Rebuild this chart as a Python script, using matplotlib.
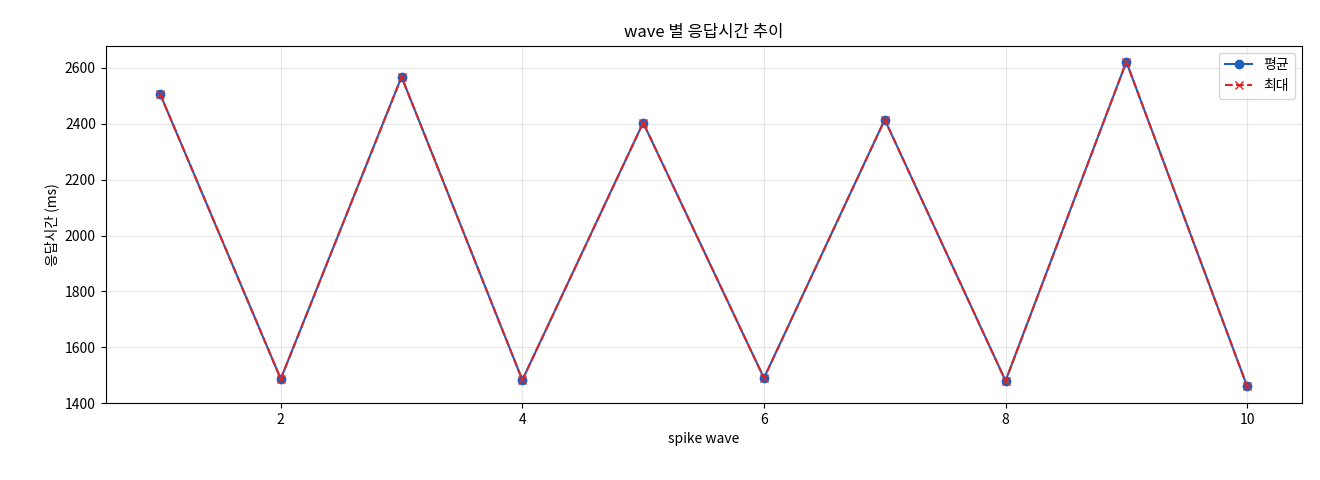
import matplotlib
matplotlib.use("Agg")
import matplotlib.pyplot as plt

plt.rcParams['font.family'] = ['Noto Sans CJK KR', 'DejaVu Sans']

waves = [1, 2, 3, 4, 5, 6, 7, 8, 9, 10]
avg_ms = [2508, 1487, 2568, 1483, 2404, 1490, 2415, 1480, 2622, 1460]
max_ms = [2508, 1487, 2568, 1483, 2404, 1490, 2415, 1480, 2622, 1460]

fig, ax = plt.subplots(figsize=(13.2, 4.8), dpi=100)
ax.plot(waves, avg_ms, "-o", color="#1f5fbf", markersize=6, linewidth=1.5, label="평균")
ax.plot(waves, max_ms, "--x", color="#d62728", markersize=6, linewidth=1.5, label="최대")
ax.set_title("wave 별 응답시간 추이")
ax.set_xlabel("spike wave")
ax.set_ylabel("응답시간 (ms)")
ax.set_ylim(1400, 2680)
ax.grid(True, alpha=0.3)
ax.legend(loc="upper right")
fig.subplots_adjust(left=0.08, right=0.986, top=0.905, bottom=0.16)
fig.savefig("out.png")
